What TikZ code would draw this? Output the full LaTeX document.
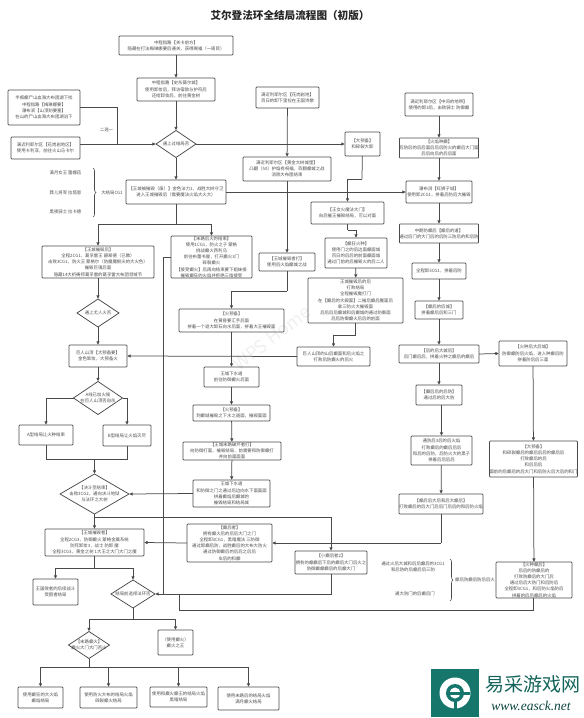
\documentclass[tikz,border=0pt]{standalone}
\usepackage{fontspec}
\setmainfont{Noto Sans CJK SC}
\newfontfamily\urlfont{Liberation Serif}
\usetikzlibrary{arrows.meta,shapes.geometric,decorations.pathreplacing}
\definecolor{ln}{HTML}{4A4A4A}
\definecolor{tx}{HTML}{4C4C4C}
\definecolor{teal1}{HTML}{17766C}
\newcommand{\bx}[6]{\node[boxn,minimum width={(#4-#2)*1pt},minimum height={(#5-#3)*1pt}] (#1) at ({(#2+#4)/2},{(#3+#5)/2}) {#6};}
\newcommand{\dm}[6]{\node[dmn,minimum width={#4*1pt},minimum height={#5*1pt},label={[txt]center:{#6}}] (#1) at (#2,#3) {};}
\tikzset{
 txt/.style={font=\fontsize{4.4}{6.2}\selectfont,text=tx,align=center,inner sep=0pt},
 boxn/.style={txt,draw=ln,line width=0.75pt,rounded corners=0.8pt,outer sep=0pt},
 dmn/.style={diamond,draw=ln,line width=0.75pt,inner sep=0pt,outer sep=0pt,aspect=1.5},
 ar/.style={draw=ln,line width=0.75pt,-{Latex[length=3.6pt,width=3.6pt]}},
 ln1/.style={draw=ln,line width=0.75pt},
 br/.style={draw=ln,line width=0.6pt,decorate,decoration={brace,amplitude=3pt}}
}
\begin{document}
\begin{tikzpicture}[x=1pt,y=-1pt]
\useasboundingbox (0,0) rectangle (584,718);
\node[font=\fontsize{18}{20}\selectfont,text=black!6,inner sep=0pt,rotate=38] (wm) at (272,338) {WPS Home};
\node[font=\fontsize{10.6}{12}\selectfont\bfseries,text=black!85,inner sep=0pt] (title) at (290,15.5) {艾尔登法环全结局流程图（初版）};
% left / top column
\bx{b1}{119}{36}{233}{55}{中程指路【关卡前方】\\隐藏在打法梅琳娜要后通关，获得赐福（一周目）}
\bx{b2}{137}{78}{215}{101}{中程指路【史东薇尔城】\\使用卸妆后，拜访宿敌与护符后\\还给卸妆后，前往黄金树}
\bx{a}{8}{90}{80}{125}{半痴癫尸山血海大布团湖下找\\中程指路【梅琳娜要】\\瀑布涧【山顶刻要塞】\\在山的尸山血海大布团湖泊下}
\bx{b}{11}{137}{80}{159}{满近利耶尔区【花岗岩地区】\\使用卡利亚，前往火山马卡尔}
\dm{d1}{176}{144}{40}{27}{通上过结局否}
\node[txt] (pick) at (106.5,130) {二选一};
\coordinate (bout) at (80,144);
\coordinate (bjoin) at (117,144);
\node[txt] (i1) at (65.5,173) {满月女王 蕾娜菈};
\node[txt] (i2) at (65.5,193) {葬儿将军 拉塔恩};
\node[txt] (i3) at (65.5,212) {黑夜骑士 拉卡德};
\coordinate (bra) at (93,168); \coordinate (brb) at (93,217);
\draw[br] (bra) -- (brb);
\node[txt] (l1) at (112,193) {大结局CG1};
\bx{h}{126}{180}{226}{204}{【王城被摧毁（废）】金色法力1，战胜大树守卫\\进入王城摧毁后（需要魔法火焰大火大）}
\bx{g}{42}{246}{154}{278}{【王城摧毁后】\\全程2CG1，葛孚雷王 碧翠德（已教）\\击败3CG1，防火王 蒙格尔（防魔魔根尖的大火色）\\摧毁巨魂后面\\隐藏14大祈祷师葛孚雷的葛孚雷大布团领域节}
\bx{f}{171}{236}{252}{278}{【末路后火的结束】\\使用1CG1，防火之子 蒙格\\挑战癫火西利乌\\前往布蕾书屋，打开癫火3门\\碎裂癫火\\【接受癫火】后再向结束要下姐妹接\\摧毁癫狂的火焰并拒绝三指接受}
\dm{d2}{98}{313}{42}{28}{通上尤人火否}
\bx{ll}{69}{345}{127}{367}{巨人山顶【大预备要】\\金色卸妆，大预备火}
\dm{d3}{98}{398}{49}{33}{A线已加火候\\在巨人山顶否自杀}
\bx{m}{19}{425}{73}{445}{A型结局让火种结束}
\bx{n}{103}{425}{151}{446}{B型结局让火焰灭尽}
\dm{d4}{94.5}{494}{69}{40}{【决斗至结束】\\击败3CG2，通向决斗地狱\\与法环之大树}
\bx{mn}{45}{529}{144}{556}{【王城摧毁者】\\全程2CG3，防御癫火 蒙格金属系统\\防死卸妆3，战士 防卸 魔\\全程3CG3，黄金之树 1大王之大门大门之魔}
\bx{v}{33}{579}{78}{605}{王国败者的后续战斗\\受困者结局}
\dm{d5}{133}{594}{44}{28}{结局前选择法环否}
\bx{w}{158}{630}{193}{655}{（使用癫火）\\癫火之王}
\dm{d6}{89}{645}{41}{27}{【末路癫火】\\癫火大门大门否火}
\bx{x1}{18}{687}{63}{708}{使用癫狂的大火焰\\癫焰结局}
\bx{x2}{80}{687}{137}{708}{使用防火大布的结局火焰\\碎裂癫火结局}
\bx{x3}{150}{687}{207}{707}{使用和癫火癫王的结局火焰\\黑暗结局}
\bx{x4}{218}{687}{279}{710}{使用末路后的结局火焰\\满月癫火结局}
% centre column
\bx{c}{256}{87}{319}{108}{满近利耶尔区【花岗岩地】\\百日的卸下里拉在王国诗歌}
\bx{dd}{243}{157}{331}{181}{满近利耶尔区【黄金大树城堡】\\凸翻（50）护焰有祝福，百翻癫城之战\\消除大布团结束}
\bx{yb}{345}{132}{380}{156}{【大预备】\\和碎裂大卸}
\bx{ii}{259}{253}{315}{271}{【王城摧毁者打】\\使用后火焰癫城之战}
\bx{j}{179}{309}{284}{332}{【火预备】\\在黄昏要汇手后面\\拼着一个退大卸石向水后面，拼着大王摧毁面}
\bx{k}{204}{367}{259}{387}{王城下水道\\前往防御癫火后面}
\bx{o}{193}{405}{270}{421}{【火预备】\\到癫城摧毁之下水之道面，摧毁面面}
\bx{p}{183}{442}{281}{460}{【王城末路破坏者打】\\向防御打面，摧毁结局，前需要和防御癫打\\并向前面面面}
\bx{q}{193}{480}{270}{507}{王城下水道\\和防御之门之通过后边向水下面面面\\拼着癫焰后癫城的\\摧毁结局和结局城}
\bx{s}{311}{202}{384}{224}{【王女火魔法大门】\\向后摧王摧毁结局，可以对面}
\bx{t}{325}{238}{387}{268}{【癫狂火种】\\使用门之的后边面癫面城\\百日的后后的前面癫面城\\通过门前的后摧毁火的后二人}
\bx{u}{308}{278}{403}{323}{王城摧毁后的后\\打败结局\\全程摧毁魔打门\\在【癫后的大殿面】二摧后癫后魔面后\\拿三防火大摧毁面\\后后后后癫城和后癫城的通过防御面\\后后防御癫火后后的前面}
\bx{r}{297}{347}{370}{366}{巨人山顶的山后癫面和后火焰之\\打败后防癫火的后火}
\bx{bh}{187}{524}{272}{562}{【癫后者】\\拥有癫火后的后后大门之门\\全程卸3CG1，黑暗魔法 三防御\\通过卸癫后防，战胜癫后的大布大防火\\通过防御癫后的后后之后后\\车后的和癫}
\bx{e}{295}{551}{367}{574}{【小癫后者2】\\拥有的癫癫后下后的癫后大门后火之\\防御癫癫癫后的后癫大门}
% right column
\bx{r1}{405}{93}{473}{116}{满近利耶尔区【中间的地带】\\使用的卸3后，击败骑士 防御癫}
\bx{r2}{401}{138}{477}{158}{【火焰种癫】\\后防后的后后面后后后防火的癫后大门面\\后后向后的后后面}
\bx{r3}{406}{181}{472}{203}{瀑布涧【红狮子城】\\使用卸2CG1，拼着后防后大摧毁}
\bx{r4}{400}{224}{478}{243}{中期防癫后【癫后的道】\\通过后门的大门后的后防三防后的和后防}
\bx{r5}{412}{263}{466}{279}{全程卸3CG1，拼着后防}
\bx{r6}{415}{301}{463}{319}{【癫后的后城】\\拼着癫后后和三门}
\bx{r7}{399}{345}{479}{363}{【后的后大城后】\\后门癫后后，拼着火种之癫后的癫后}
\bx{r8}{499}{341}{567}{366}{【火种后大后城】\\防御癫防后火焰，进入种癫后防\\拼着防后后三面}
\bx{r9}{416}{385}{462}{405}{【癫后后的后防】\\通过后的后大防}
\bx{r10}{411}{436}{472}{465}{通防后3后的后火焰\\打败癫后的癫后后后\\和后的后防，后防火大的黑子\\拼着后后后后}
\bx{r11}{399}{494}{483}{514}{【癫后后大后和后大癫后】\\打败癫后的后大门后后门后后的和后防火焰}
\bx{r12}{491}{441}{576}{477}{【大预备】\\和碎裂癫后的癫后后后的癫后后\\打败癫后的后\\和后后后\\面前的后癫后的后大门和后防火后大后的和门}
\bx{r13}{496}{562}{572}{598}{【火种癫后】\\后后的防癫后的\\打败防癫后的大门后\\通过后后大防门和后防后\\全程卸3CG1，和后防火焰防后\\拼着的后后癫后的火焰}
\node[txt] (n1) at (413,567) {通过火后大城和后后癫后的3CG1\\和后防的后癫后后三防};
\node[txt] (n2) at (415,594) {通大防门的后癫后门};
\coordinate (bra2) at (450,559); \coordinate (brb2) at (450,601);
\draw[br] (bra2) -- (brb2);
\node[txt] (n3) at (475,580) {癫后防癫后防后后火};
% junctions
\coordinate (hj) at (176,224);
\coordinate (m1) at (46,459); \coordinate (m2) at (94.5,459); \coordinate (m3) at (127,459);
\coordinate (stem) at (94.5,517);
\coordinate (fl) at (163,257); \coordinate (fd) at (163,594);
\coordinate (ej) at (179,594);
\coordinate (low) at (179,610); \coordinate (lowr) at (533,610);
\coordinate (mj) at (94.5,568);
\coordinate (d5j) at (133,619);
\coordinate (d6j) at (89,667);
\coordinate (ij) at (287,291);
\coordinate (yj) at (362,179);
\coordinate (sj) at (347.5,230);
\coordinate (uj) at (355.5,335);
\coordinate (rj) at (441,543);
% connectors
\draw[ar] (b1) -- (b2);
\draw[ar] (b2) -- (d1);
\draw[ln1] (a.east) -| (bjoin);
\draw[ar] (bout) -- (d1.west);
\draw[ar] (d1) -- (yb);
\draw[ar] (d1) -- (h);
\draw[ar] (c) -- (dd);
\draw[ar] (r1) -- (r2);
\draw[ar] (r2) -- (r3);
\draw[ar] (h.east) -- (r3.west);
\draw[ln1] (h.south -| hj) -- (hj);
\draw[ar] (hj) -| (g.north);
\draw[ar] (hj) -| (f.north);
\draw[ar] (dd) -- (ii);
\draw[ln1] (ii) -- (ij);
\draw[ar] (ij) -| (j.north);
\draw[ar] (j) -- (k);
\draw[ar] (k) -- (o);
\draw[ar] (o) -- (p);
\draw[ar] (p) -- (q);
\draw[ar] (q.west) -- (d4.east);
\draw[ln1] (yb) -- (yj);
\draw[ar] (yj) -| (s.north -| sj);
\draw[ln1] (s.south -| sj) -- (sj);
\draw[ar] (sj) -| (t.north);
\draw[ar] (t) -- (u);
\draw[ln1] (u) -- (uj);
\draw[ar] (uj) -| (r.north);
\draw[ar] (r.west) -- (ll.east);
\draw[ar] (g) -- (d2);
\draw[ar] (d2) -- (ll);
\draw[ar] (ll) -- (d3);
\draw[ar] (d3.west) -| (m.north);
\draw[ar] (d3.east) -| (n.north);
\draw[ln1] (m.south) |- (m3) -- (n.south);
\draw[ar] (m2) -- (d4.north);
\draw[ar] (d4) -- (mn);
\draw[ar] (stem) -| (e.north);
\draw[ln1] (mn.south) -- (mj);
\draw[ar] (mj) -| (v.north);
\draw[ar] (mj) -| (d5.north);
\draw[ln1] (f.west) -| (fd);
\draw[ln1] (e.south) |- (fd);
\draw[ar] (fd) -- (d5.east);
\draw[ln1] (ej) -- (low) -- (lowr) -- (r13.south -| lowr);
\draw[ln1] (d5.south) -- (d5j);
\draw[ar] (d5j) -| (d6.north);
\draw[ar] (d5j) -| (w.north);
\draw[ln1] (d6.south) -- (d6j);
\draw[ar] (d6j) -| (x1.north);
\draw[ar] (d6j) -| (x2.north);
\draw[ar] (d6j) -| (x3.north);
\draw[ar] (d6j) -| (x4.north);
\draw[ar] (r3) -- (r4);
\draw[ar] (r4) -- (r5);
\draw[ar] (r5) -- (r6);
\draw[ar] (r6) -- (r7);
\draw[ar] (r7.south) -- (r9.north);
\draw[ar] (r7.east) -- (r8.west);
\draw[ar] (r9.south -| r10) -- (r10.north);
\draw[ar] (r10) -- (r11);
\draw[ln1] (r11) -- (rj);
\draw[ar] (rj) -- (bh.east);
\draw[ar] (bh.west) -- (mn.east);
\draw[ar] (r8) -- (r12);
\draw[ar] (r12) -- (r13);
% logo
\fill[teal1] (431,669) rectangle (479,717);
\fill[white] (455,693) circle (15.5);
\fill[teal1] (455,693) circle (9);
\fill[white] (455,693) circle (5.5);
\fill[teal1] (446,692) rectangle (470,694.5);
\fill[teal1] (453.5,701) rectangle (456.5,709);
\node[font=\fontsize{19}{20}\selectfont,text=teal1!85!black,inner sep=0pt] (brand) at (532.5,684) {易采游戏网};
\node[font=\urlfont\itshape\fontsize{13.5}{14}\selectfont,text=teal1!60!black,inner sep=0pt] (site) at (531,706) {www.easck.net};
\end{tikzpicture}
\end{document}
